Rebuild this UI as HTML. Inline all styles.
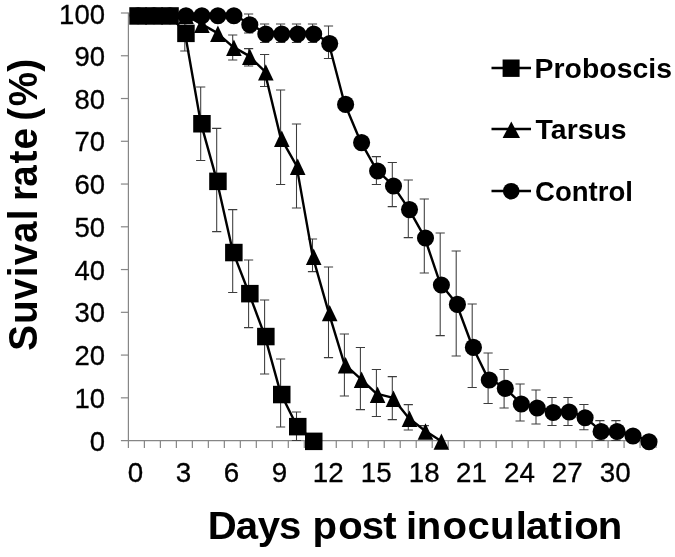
<!DOCTYPE html>
<html><head><meta charset="utf-8"><title>Survival rate</title>
<style>html,body{margin:0;padding:0;background:#fff}body{width:675px;height:557px;position:relative;overflow:hidden}</style></head>
<body>
<svg width="675" height="557" viewBox="0 0 675 557" style="position:absolute;left:0;top:0">
<rect width="675" height="557" fill="#fff"/>
<g stroke="#868686" stroke-width="1.2" fill="none">
<path d="M128.4 12.5V440.6"/>
<path d="M120.9 440.6H656.1"/>
<path d="M120.9 397.84H128.4"/>
<path d="M120.9 355.08H128.4"/>
<path d="M120.9 312.32H128.4"/>
<path d="M120.9 269.56H128.4"/>
<path d="M120.9 226.80H128.4"/>
<path d="M120.9 184.04H128.4"/>
<path d="M120.9 141.28H128.4"/>
<path d="M120.9 98.52H128.4"/>
<path d="M120.9 55.76H128.4"/>
<path d="M120.9 13.00H128.4"/>
<path d="M128.40 440.6V448.1"/>
<path d="M144.39 440.6V448.1"/>
<path d="M160.38 440.6V448.1"/>
<path d="M176.37 440.6V448.1"/>
<path d="M192.36 440.6V448.1"/>
<path d="M208.35 440.6V448.1"/>
<path d="M224.34 440.6V448.1"/>
<path d="M240.33 440.6V448.1"/>
<path d="M256.32 440.6V448.1"/>
<path d="M272.31 440.6V448.1"/>
<path d="M288.30 440.6V448.1"/>
<path d="M304.29 440.6V448.1"/>
<path d="M320.28 440.6V448.1"/>
<path d="M336.27 440.6V448.1"/>
<path d="M352.26 440.6V448.1"/>
<path d="M368.25 440.6V448.1"/>
<path d="M384.24 440.6V448.1"/>
<path d="M400.23 440.6V448.1"/>
<path d="M416.22 440.6V448.1"/>
<path d="M432.21 440.6V448.1"/>
<path d="M448.20 440.6V448.1"/>
<path d="M464.19 440.6V448.1"/>
<path d="M480.18 440.6V448.1"/>
<path d="M496.17 440.6V448.1"/>
<path d="M512.16 440.6V448.1"/>
<path d="M528.15 440.6V448.1"/>
<path d="M544.14 440.6V448.1"/>
<path d="M560.13 440.6V448.1"/>
<path d="M576.12 440.6V448.1"/>
<path d="M592.11 440.6V448.1"/>
<path d="M608.10 440.6V448.1"/>
<path d="M624.09 440.6V448.1"/>
<path d="M640.08 440.6V448.1"/>
<path d="M656.07 440.6V448.1"/>
</g>
<text transform="translate(105.0,450.5) scale(1.0,1)" font-family="Liberation Sans, Arial, sans-serif" font-size="27.5" fill="#000" text-anchor="end" stroke="#000" stroke-width="0.3">0</text>
<text transform="translate(105.0,407.8) scale(1.0,1)" font-family="Liberation Sans, Arial, sans-serif" font-size="27.5" fill="#000" text-anchor="end" stroke="#000" stroke-width="0.3">10</text>
<text transform="translate(105.0,365.0) scale(1.0,1)" font-family="Liberation Sans, Arial, sans-serif" font-size="27.5" fill="#000" text-anchor="end" stroke="#000" stroke-width="0.3">20</text>
<text transform="translate(105.0,322.3) scale(1.0,1)" font-family="Liberation Sans, Arial, sans-serif" font-size="27.5" fill="#000" text-anchor="end" stroke="#000" stroke-width="0.3">30</text>
<text transform="translate(105.0,279.5) scale(1.0,1)" font-family="Liberation Sans, Arial, sans-serif" font-size="27.5" fill="#000" text-anchor="end" stroke="#000" stroke-width="0.3">40</text>
<text transform="translate(105.0,236.7) scale(1.0,1)" font-family="Liberation Sans, Arial, sans-serif" font-size="27.5" fill="#000" text-anchor="end" stroke="#000" stroke-width="0.3">50</text>
<text transform="translate(105.0,194.0) scale(1.0,1)" font-family="Liberation Sans, Arial, sans-serif" font-size="27.5" fill="#000" text-anchor="end" stroke="#000" stroke-width="0.3">60</text>
<text transform="translate(105.0,151.2) scale(1.0,1)" font-family="Liberation Sans, Arial, sans-serif" font-size="27.5" fill="#000" text-anchor="end" stroke="#000" stroke-width="0.3">70</text>
<text transform="translate(105.0,108.5) scale(1.0,1)" font-family="Liberation Sans, Arial, sans-serif" font-size="27.5" fill="#000" text-anchor="end" stroke="#000" stroke-width="0.3">80</text>
<text transform="translate(105.0,65.7) scale(1.0,1)" font-family="Liberation Sans, Arial, sans-serif" font-size="27.5" fill="#000" text-anchor="end" stroke="#000" stroke-width="0.3">90</text>
<text transform="translate(105.0,24.2) scale(1.0,1)" font-family="Liberation Sans, Arial, sans-serif" font-size="27.5" fill="#000" text-anchor="end" stroke="#000" stroke-width="0.3">100</text>
<text transform="translate(135.6,482.4) scale(1.01,1)" font-family="Liberation Sans, Arial, sans-serif" font-size="27.5" fill="#000" text-anchor="middle" stroke="#000" stroke-width="0.3">0</text>
<text transform="translate(183.6,482.4) scale(1.01,1)" font-family="Liberation Sans, Arial, sans-serif" font-size="27.5" fill="#000" text-anchor="middle" stroke="#000" stroke-width="0.3">3</text>
<text transform="translate(231.5,482.4) scale(1.01,1)" font-family="Liberation Sans, Arial, sans-serif" font-size="27.5" fill="#000" text-anchor="middle" stroke="#000" stroke-width="0.3">6</text>
<text transform="translate(279.5,482.4) scale(1.01,1)" font-family="Liberation Sans, Arial, sans-serif" font-size="27.5" fill="#000" text-anchor="middle" stroke="#000" stroke-width="0.3">9</text>
<text transform="translate(328.3,482.4) scale(1.01,1)" font-family="Liberation Sans, Arial, sans-serif" font-size="27.5" fill="#000" text-anchor="middle" stroke="#000" stroke-width="0.3">12</text>
<text transform="translate(376.2,482.4) scale(1.01,1)" font-family="Liberation Sans, Arial, sans-serif" font-size="27.5" fill="#000" text-anchor="middle" stroke="#000" stroke-width="0.3">15</text>
<text transform="translate(424.2,482.4) scale(1.01,1)" font-family="Liberation Sans, Arial, sans-serif" font-size="27.5" fill="#000" text-anchor="middle" stroke="#000" stroke-width="0.3">18</text>
<text transform="translate(471.4,482.4) scale(1.01,1)" font-family="Liberation Sans, Arial, sans-serif" font-size="27.5" fill="#000" text-anchor="middle" stroke="#000" stroke-width="0.3">21</text>
<text transform="translate(519.4,482.4) scale(1.01,1)" font-family="Liberation Sans, Arial, sans-serif" font-size="27.5" fill="#000" text-anchor="middle" stroke="#000" stroke-width="0.3">24</text>
<text transform="translate(567.3,482.4) scale(1.01,1)" font-family="Liberation Sans, Arial, sans-serif" font-size="27.5" fill="#000" text-anchor="middle" stroke="#000" stroke-width="0.3">27</text>
<text transform="translate(615.3,482.4) scale(1.01,1)" font-family="Liberation Sans, Arial, sans-serif" font-size="27.5" fill="#000" text-anchor="middle" stroke="#000" stroke-width="0.3">30</text>
<text transform="translate(0,539) scale(1.04,1)" x="199.81 226.75 247.87 268.23 289.69 300.42 325.23 347.74 368.57 381.43 390.43 400.64 425.42 449.46 471.27 495.91 505.89 527.23 541.39 552.15 574.87" y="0" font-family="Liberation Sans, Arial, sans-serif" font-weight="bold" font-size="38.6" fill="#000">Days post inoculation</text>
<text transform="translate(37.2,400) rotate(-90) scale(1.0,1.05)" x="49.32 75.89 100.08 122.66 134.88 156.98 179.86 190.58 198.91 213.18 236.57 250.57 272.04 279.23 293.87 328.32" y="0" font-family="Liberation Sans, Arial, sans-serif" font-weight="bold" font-size="38.6" fill="#000">Suvival rate (%)</text>
<g stroke="#3c3c3c" stroke-width="1.05" fill="none">
<path d="M184.8 15.8V51M180.2 15.8h9.2M180.2 51h9.2"/>
<path d="M200.7 87V160.5M196.1 87h9.2M196.1 160.5h9.2"/>
<path d="M216.7 128.4V231.6M212.1 128.4h9.2M212.1 231.6h9.2"/>
<path d="M232.7 209.6V292.4M228.1 209.6h9.2M228.1 292.4h9.2"/>
<path d="M248.6 260V327.6M244.0 260h9.2M244.0 327.6h9.2"/>
<path d="M264.6 300V374M260.0 300h9.2M260.0 374h9.2"/>
<path d="M280.6 359V427M276.0 359h9.2M276.0 427h9.2"/>
<path d="M296.5 412V440.4M291.9 412h9.2M291.9 440.4h9.2"/>
</g>
<polyline points="136.9,14.6 152.8,14.6 168.8,14.6 184.8,32.0 200.7,122.4 216.7,179.9 232.7,251.1 248.6,292.3 264.6,335.1 280.6,393.1 296.5,425.3 312.5,439.9" fill="none" stroke="#000" stroke-width="2.4" stroke-linejoin="round"/>
<g fill="#000">
<rect x="129.3" y="7.2" width="17.5" height="17.5"/>
<rect x="145.3" y="7.2" width="17.5" height="17.5"/>
<rect x="161.3" y="7.2" width="17.5" height="17.5"/>
<rect x="177.2" y="24.6" width="17.5" height="17.5"/>
<rect x="193.2" y="115.0" width="17.5" height="17.5"/>
<rect x="209.2" y="172.6" width="17.5" height="17.5"/>
<rect x="225.1" y="243.8" width="17.5" height="17.5"/>
<rect x="241.1" y="284.9" width="17.5" height="17.5"/>
<rect x="257.1" y="327.8" width="17.5" height="17.5"/>
<rect x="273.0" y="385.8" width="17.5" height="17.5"/>
<rect x="289.0" y="417.9" width="17.5" height="17.5"/>
<rect x="305.0" y="432.6" width="17.5" height="17.5"/>
</g>
<g stroke="#3c3c3c" stroke-width="1.05" fill="none">
<path d="M232.7 35V60M228.1 35h9.2M228.1 60h9.2"/>
<path d="M248.6 48.6V66M244.0 48.6h9.2M244.0 66h9.2"/>
<path d="M264.6 54.4V86.5M260.0 54.4h9.2M260.0 86.5h9.2"/>
<path d="M280.6 90V184.4M276.0 90h9.2M276.0 184.4h9.2"/>
<path d="M296.5 124V208M291.9 124h9.2M291.9 208h9.2"/>
<path d="M312.5 239V271.6M307.9 239h9.2M307.9 271.6h9.2"/>
<path d="M328.5 267V357.6M323.9 267h9.2M323.9 357.6h9.2"/>
<path d="M344.4 334V396M339.8 334h9.2M339.8 396h9.2"/>
<path d="M360.4 347.4V409.6M355.8 347.4h9.2M355.8 409.6h9.2"/>
<path d="M376.4 369.4V416.4M371.8 369.4h9.2M371.8 416.4h9.2"/>
<path d="M392.3 376.6V419.6M387.7 376.6h9.2M387.7 419.6h9.2"/>
<path d="M408.3 404.6V430M403.7 404.6h9.2M403.7 430h9.2"/>
<path d="M424.3 425.6V438M419.7 425.6h9.2M419.7 438h9.2"/>
</g>
<polyline points="136.9,14.6 152.8,14.6 168.8,14.6 184.8,14.6 200.7,23.6 216.7,32.6 232.7,46.6 248.6,55.6 264.6,71.2 280.6,137.6 296.5,165.6 312.5,255.6 328.5,311.9 344.4,364.1 360.4,378.6 376.4,393.6 392.3,397.6 408.3,417.6 424.3,430.3 440.2,440.4" fill="none" stroke="#000" stroke-width="2.4" stroke-linejoin="round"/>
<g fill="#000">
<path d="M138.1 7.6L145.9 24.0H130.3Z"/>
<path d="M154.0 7.6L161.8 24.0H146.2Z"/>
<path d="M170.0 7.6L177.8 24.0H162.2Z"/>
<path d="M186.0 7.6L193.8 24.0H178.2Z"/>
<path d="M201.9 16.6L209.7 33.0H194.1Z"/>
<path d="M217.9 25.6L225.7 42.0H210.1Z"/>
<path d="M233.9 39.6L241.7 56.0H226.1Z"/>
<path d="M249.8 48.6L257.6 65.0H242.0Z"/>
<path d="M265.8 64.2L273.6 80.6H258.0Z"/>
<path d="M281.8 130.6L289.6 147.0H274.0Z"/>
<path d="M297.7 158.6L305.5 175.0H289.9Z"/>
<path d="M313.7 248.6L321.5 265.0H305.9Z"/>
<path d="M329.7 304.9L337.5 321.3H321.9Z"/>
<path d="M345.6 357.1L353.4 373.5H337.8Z"/>
<path d="M361.6 371.6L369.4 388.0H353.8Z"/>
<path d="M377.6 386.6L385.4 403.0H369.8Z"/>
<path d="M393.5 390.6L401.3 407.0H385.7Z"/>
<path d="M409.5 410.6L417.3 427.0H401.7Z"/>
<path d="M425.5 423.3L433.3 439.7H417.7Z"/>
<path d="M441.4 433.4L449.2 449.8H433.6Z"/>
</g>
<g stroke="#3c3c3c" stroke-width="1.05" fill="none">
<path d="M248.6 14V33M244.0 14h9.2M244.0 33h9.2"/>
<path d="M264.6 24V42.4M260.0 24h9.2M260.0 42.4h9.2"/>
<path d="M280.6 24V42.4M276.0 24h9.2M276.0 42.4h9.2"/>
<path d="M296.5 24V42.4M291.9 24h9.2M291.9 42.4h9.2"/>
<path d="M312.5 24V42.4M307.9 24h9.2M307.9 42.4h9.2"/>
<path d="M328.5 26V58.4M323.9 26h9.2M323.9 58.4h9.2"/>
<path d="M376.4 156.6V184.4M371.8 156.6h9.2M371.8 184.4h9.2"/>
<path d="M392.3 162.4V206.6M387.7 162.4h9.2M387.7 206.6h9.2"/>
<path d="M408.3 180V237.6M403.7 180h9.2M403.7 237.6h9.2"/>
<path d="M424.3 199V273M419.7 199h9.2M419.7 273h9.2"/>
<path d="M440.2 233V335.6M435.6 233h9.2M435.6 335.6h9.2"/>
<path d="M456.2 251V356M451.6 251h9.2M451.6 356h9.2"/>
<path d="M472.2 304V387.4M467.6 304h9.2M467.6 387.4h9.2"/>
<path d="M488.1 353V403.4M483.5 353h9.2M483.5 403.4h9.2"/>
<path d="M504.1 369.5V408M499.5 369.5h9.2M499.5 408h9.2"/>
<path d="M520.1 384V421M515.5 384h9.2M515.5 421h9.2"/>
<path d="M536.0 390V424M531.4 390h9.2M531.4 424h9.2"/>
<path d="M552.0 397.4V425.5M547.4 397.4h9.2M547.4 425.5h9.2"/>
<path d="M568.0 397.4V425.5M563.4 397.4h9.2M563.4 425.5h9.2"/>
<path d="M583.9 404.5V429.8M579.3 404.5h9.2M579.3 429.8h9.2"/>
<path d="M599.9 420.6V440.4M595.3 420.6h9.2M595.3 440.4h9.2"/>
<path d="M615.9 420.6V440.4M611.3 420.6h9.2M611.3 440.4h9.2"/>
</g>
<polyline points="136.9,14.3 152.8,14.3 168.8,14.3 184.8,14.3 200.7,14.3 216.7,14.3 232.7,14.3 248.6,23.3 264.6,32.6 280.6,32.6 296.5,32.6 312.5,32.6 328.5,42.2 344.4,103.0 360.4,141.2 376.4,169.6 392.3,184.6 408.3,208.2 424.3,236.6 440.2,283.6 456.2,303.0 472.2,346.0 488.1,378.6 504.1,387.0 520.1,402.6 536.0,406.6 552.0,411.1 568.0,410.6 583.9,416.4 599.9,430.1 615.9,430.1 631.8,434.6 647.8,440.3" fill="none" stroke="#000" stroke-width="2.4" stroke-linejoin="round"/>
<g fill="#000">
<circle cx="138.1" cy="15.7" r="8.55"/>
<circle cx="154.0" cy="15.7" r="8.55"/>
<circle cx="170.0" cy="15.7" r="8.55"/>
<circle cx="186.0" cy="15.7" r="8.55"/>
<circle cx="201.9" cy="15.7" r="8.55"/>
<circle cx="217.9" cy="15.7" r="8.55"/>
<circle cx="233.9" cy="15.7" r="8.55"/>
<circle cx="249.8" cy="24.7" r="8.55"/>
<circle cx="265.8" cy="34" r="8.55"/>
<circle cx="281.8" cy="34" r="8.55"/>
<circle cx="297.7" cy="34" r="8.55"/>
<circle cx="313.7" cy="34" r="8.55"/>
<circle cx="329.7" cy="43.6" r="8.55"/>
<circle cx="345.6" cy="104.4" r="8.55"/>
<circle cx="361.6" cy="142.6" r="8.55"/>
<circle cx="377.6" cy="171" r="8.55"/>
<circle cx="393.5" cy="186" r="8.55"/>
<circle cx="409.5" cy="209.6" r="8.55"/>
<circle cx="425.5" cy="238" r="8.55"/>
<circle cx="441.4" cy="285" r="8.55"/>
<circle cx="457.4" cy="304.4" r="8.55"/>
<circle cx="473.4" cy="347.4" r="8.55"/>
<circle cx="489.3" cy="380" r="8.55"/>
<circle cx="505.3" cy="388.4" r="8.55"/>
<circle cx="521.3" cy="404" r="8.55"/>
<circle cx="537.2" cy="408" r="8.55"/>
<circle cx="553.2" cy="412.5" r="8.55"/>
<circle cx="569.2" cy="412" r="8.55"/>
<circle cx="585.1" cy="417.8" r="8.55"/>
<circle cx="601.1" cy="431.5" r="8.55"/>
<circle cx="617.1" cy="431.5" r="8.55"/>
<circle cx="633.0" cy="436" r="8.55"/>
<circle cx="649.0" cy="441.7" r="8.55"/>
</g>
<g stroke="#000" stroke-width="2.6"><path d="M491.5 68H531M491.5 129H531M491.5 191H531"/></g>
<rect x="502.6" y="59.5" width="17" height="17.4" fill="#000"/>
<path d="M511.3 121.5L520 138H502.6Z" fill="#000"/>
<circle cx="511.2" cy="191.2" r="8.3" fill="#000"/>
<text transform="translate(534.6,78.4) scale(1.045,1)" font-family="Liberation Sans, Arial, sans-serif" font-weight="bold" font-size="27.2" fill="#000" text-anchor="start">Proboscis</text>
<text transform="translate(535.6,139.3) scale(1.045,1)" font-family="Liberation Sans, Arial, sans-serif" font-weight="bold" font-size="27.2" fill="#000" text-anchor="start">Tarsus</text>
<text transform="translate(535.0,201.0) scale(1.014,1)" font-family="Liberation Sans, Arial, sans-serif" font-weight="bold" font-size="27.2" fill="#000" text-anchor="start">Control</text>
</svg>
</body></html>
